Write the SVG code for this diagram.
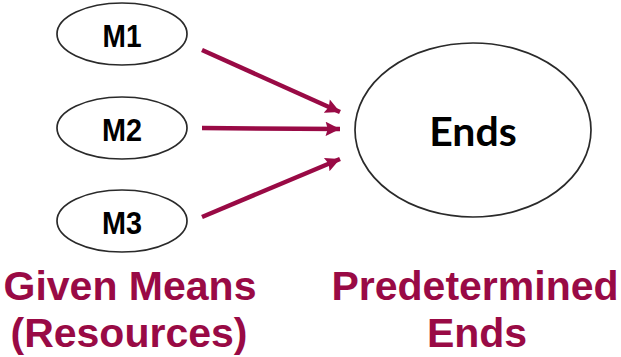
<svg xmlns="http://www.w3.org/2000/svg" width="621" height="357" viewBox="0 0 621 357">
<defs>
<style>
.node{fill:#fff;stroke:#2a2a2a;stroke-width:1.7}
.m{font-family:"Liberation Sans",Arial,sans-serif;font-weight:bold;font-size:31px;fill:#000;text-anchor:middle}
.ends{font-family:Lato,"Open Sans",sans-serif;font-weight:bold;font-size:41px;fill:#000;text-anchor:middle}
.lbl{font-family:"Liberation Sans",Arial,sans-serif;font-weight:bold;font-size:41px;fill:#990a45;text-anchor:middle}
.conn{stroke:#990a45;stroke-width:4.5;fill:none}
</style>
<marker id="ah" viewBox="0 0 10 10" refX="10" refY="5" markerWidth="3.5" markerHeight="3.2" orient="auto" markerUnits="strokeWidth">
<path d="M0,0 L10,5 L0,10 L1.5,5 z" fill="#990a45"/>
</marker>
</defs>
<rect width="621" height="357" fill="#fff"/>
<g id="connectors">
<line class="conn" x1="202" y1="50" x2="340" y2="112" marker-end="url(#ah)"/>
<line class="conn" x1="202" y1="128" x2="340" y2="129" marker-end="url(#ah)"/>
<line class="conn" x1="202" y1="217" x2="340" y2="159" marker-end="url(#ah)"/>
</g>
<g id="m1">
<ellipse class="node" cx="122" cy="34" rx="65" ry="31"/>
<text class="m" x="122" y="47" textLength="39" lengthAdjust="spacingAndGlyphs">M1</text>
</g>
<g id="m2">
<ellipse class="node" cx="122" cy="128" rx="65" ry="31"/>
<text class="m" x="122" y="141" textLength="40" lengthAdjust="spacingAndGlyphs">M2</text>
</g>
<g id="m3">
<ellipse class="node" cx="122" cy="221" rx="65" ry="31"/>
<text class="m" x="122" y="234" textLength="40" lengthAdjust="spacingAndGlyphs">M3</text>
</g>
<g id="ends">
<ellipse class="node" cx="473" cy="130" rx="118" ry="87"/>
<text class="ends" x="473" y="146">Ends</text>
</g>
<g id="labels">
<text class="lbl" x="130" y="300">Given Means</text>
<text class="lbl" x="129" y="347">(Resources)</text>
<text class="lbl" x="475" y="300">Predetermined</text>
<text class="lbl" x="477" y="347">Ends</text>
</g>
</svg>
